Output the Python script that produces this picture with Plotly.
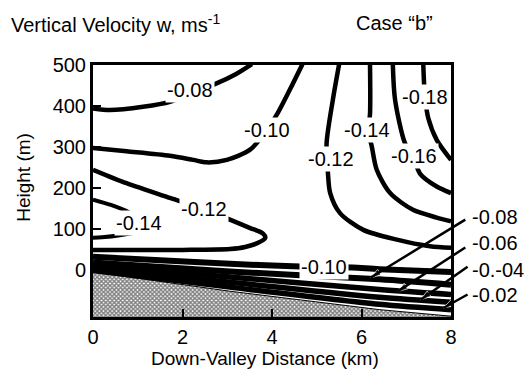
import plotly.graph_objects as go

# ---------------- data ----------------
x_tick_vals = [0, 2, 4, 6, 8]
y_tick_vals = [0, 100, 200, 300, 400, 500]
X_RANGE = [0, 8]
Y_RANGE = [-116, 500]

# contour -0.08 (upper left)
c008_x = [0.0, 0.38, 1.12, 1.72, 2.2, 2.76, 3.2, 3.55]
c008_y = [394, 390, 398, 410, 432, 455, 478, 502]
# contour -0.10 (upper)
c010u_x = [0.0, 0.75, 1.72, 2.24, 2.54, 2.99, 3.51, 3.88, 4.13, 4.4, 4.68]
c010u_y = [297, 289, 278, 268, 262, 268, 293, 340, 383, 440, 502]
# contour -0.12 (left tongue)
c012l_x = [0.0, 0.75, 1.72, 2.47, 3.06, 3.5, 3.8, 3.85, 3.7, 3.4, 3.06, 2.0, 1.0, 0.0]
c012l_y = [244, 211, 175, 148, 122, 102, 88, 78, 66, 55, 50, 48, 48, 48]
# contour -0.14 (left tongue)
c014l_x = [0.0, 0.4, 0.8, 1.05, 1.15, 1.0, 0.6, 0.2, 0.0]
c014l_y = [171, 158, 140, 118, 108, 93, 84, 79, 78]
# contour -0.12 (right)
c012r_x = [5.5, 5.36, 5.22, 5.25, 5.3, 5.52, 6.04, 6.79, 7.53, 8.0]
c012r_y = [502, 415, 309, 236, 187, 138, 97, 73, 57, 53]
# contour -0.14 (right)
c014r_x = [6.19, 6.19, 6.15, 6.23, 6.34, 6.64, 7.15, 7.68, 8.0]
c014r_y = [502, 380, 340, 301, 244, 187, 146, 127, 118]
# contour -0.16
c016_x = [6.70, 6.75, 6.97, 7.15, 7.31, 7.68, 8.0]
c016_y = [502, 415, 309, 277, 234, 203, 187]
# contour -0.18
c018_x = [7.38, 7.40, 7.42, 7.49, 7.68, 8.0]
c018_y = [502, 451, 421, 371, 317, 268]
# near-ground contours
c010g_x = [0.0, 1.5, 3.06, 4.47, 5.17, 5.8, 6.4, 8.0]
c010g_y = [31, 23, 14, 8, 7, 5, 1, -6]
c008g_x = [0.0, 3.06, 6.4, 8.0]
c008g_y = [17, -5, -24, -37]
c006g_x = [0.0, 3.06, 6.4, 8.0]
c006g_y = [9, -18, -49, -61]
c004g_x = [0.0, 3.06, 6.4, 8.0]
c004g_y = [3, -31, -68, -80]
c002g_x = [0.0, 3.06, 6.4, 8.0]
c002g_y = [-2, -43, -85, -98]
# terrain surface
ground_x = [0.0, 3.06, 6.4, 8.0, 8.0, 0.0]
ground_y = [-6, -53, -98, -114, -130, -130]

# contour labels inside the plot
inner_labels = ["-0.08", "-0.10", "-0.12", "-0.14", "-0.12", "-0.14", "-0.16", "-0.18", "-0.10"]
inner_label_x = [2.17, 3.88, 2.47, 1.02, 5.32, 6.12, 7.18, 7.42, 5.17]
inner_label_y = [440, 340, 148, 113, 270, 340, 277, 421, 7]

# leader labels outside the plot (data units)
outer_labels = ["-0.08", "-0.06", "-0.-04", "-0.02"]
outer_label_x = [8.99, 8.99, 9.06, 8.99]
outer_label_y = [129, 66, 0, -61]
leader_tail_x = [8.32, 8.32, 8.37, 8.37]
leader_tail_y = [122, 54, 7, -61]
leader_tip_x = [6.2, 6.8, 7.32, 7.83]
leader_tip_y = [-20, -54, -74, -94]

FONT = "Liberation Sans, Arial, sans-serif"
FS = 20


def to_paper_x(v):
    return (v - X_RANGE[0]) / (X_RANGE[1] - X_RANGE[0])


def to_paper_y(v):
    return (v - Y_RANGE[0]) / (Y_RANGE[1] - Y_RANGE[0])


fig = go.Figure()

fig.add_trace(go.Scatter(
    x=ground_x, y=ground_y, mode="lines", fill="toself",
    line=dict(color="black", width=1),
    fillcolor="white",
    fillpattern=dict(shape="x", fgcolor="black", bgcolor="white", size=3, solidity=0.7),
    hoverinfo="skip", showlegend=False))

for xs, ys, w in [
    (c008_x, c008_y, 4.5), (c010u_x, c010u_y, 4.5), (c012l_x, c012l_y, 4.5),
    (c014l_x, c014l_y, 4), (c012r_x, c012r_y, 4.5), (c014r_x, c014r_y, 4.5),
    (c016_x, c016_y, 4.5), (c018_x, c018_y, 4.5),
    (c010g_x, c010g_y, 6), (c008g_x, c008g_y, 6), (c006g_x, c006g_y, 5.5),
    (c004g_x, c004g_y, 5.5), (c002g_x, c002g_y, 5.5),
]:
    fig.add_trace(go.Scatter(
        x=xs, y=ys, mode="lines",
        line=dict(color="black", width=w, shape="spline", smoothing=0.8),
        hoverinfo="skip", showlegend=False))

for t, lx, ly in zip(inner_labels, inner_label_x, inner_label_y):
    fig.add_annotation(x=lx, y=ly, xref="x", yref="y", text=t, showarrow=False,
                       bgcolor="white", borderpad=1,
                       font=dict(family=FONT, size=FS, color="black"))

for t, lx, ly in zip(outer_labels, outer_label_x, outer_label_y):
    fig.add_annotation(x=to_paper_x(lx), y=to_paper_y(ly), xref="paper", yref="paper",
                       xanchor="center", yanchor="middle",
                       text=t, showarrow=False,
                       font=dict(family=FONT, size=FS, color="black"))

for tx, ty, hx, hy in zip(leader_tail_x, leader_tail_y, leader_tip_x, leader_tip_y):
    fig.add_shape(type="line", xref="paper", yref="paper",
                  x0=to_paper_x(tx), y0=to_paper_y(ty),
                  x1=to_paper_x(hx), y1=to_paper_y(hy),
                  line=dict(color="black", width=2.5))
    fig.add_trace(go.Scatter(
        x=[tx, hx], y=[ty, hy], mode="markers", cliponaxis=False,
        marker=dict(symbol="arrow", angleref="previous", size=[0, 11], color="black",
                    line=dict(width=1, color="white")),
        hoverinfo="skip", showlegend=False))

# the page body adds an 8 px offset, so the figure is 8 px smaller than the window
fig.update_layout(
    width=524, height=367,
    margin=dict(l=85, r=81, t=57, b=58, autoexpand=False),
    paper_bgcolor="white", plot_bgcolor="white",
    font=dict(family=FONT, size=FS, color="black"),
    xaxis=dict(range=X_RANGE, tickvals=x_tick_vals, ticks="inside", ticklen=8,
               tickwidth=2, tickcolor="black", showline=True, linecolor="black",
               linewidth=3, mirror=True, showgrid=False, zeroline=False,
               automargin=False, tickfont=dict(family=FONT, size=FS)),
    yaxis=dict(range=Y_RANGE, tickvals=y_tick_vals, ticks="inside", ticklen=8,
               tickwidth=2, tickcolor="black", showline=True, linecolor="black",
               linewidth=3, mirror=True, showgrid=False, zeroline=False,
               automargin=False, tickfont=dict(family=FONT, size=FS)),
)

fig.add_annotation(xref="paper", yref="paper", x=0.48, y=-0.163,
                   xanchor="center", yanchor="middle",
                   text="Down-Valley Distance (km)", showarrow=False,
                   font=dict(family=FONT, size=19))
fig.add_annotation(xref="paper", yref="paper", x=-0.193, y=0.556, textangle=-90,
                   xanchor="center", yanchor="middle",
                   text="Height (m)", showarrow=False,
                   font=dict(family=FONT, size=19))
fig.add_annotation(xref="paper", yref="paper", x=-0.235, y=1.165, xanchor="left", yanchor="middle",
                   text="Vertical Velocity w, ms<sup>-1</sup>", showarrow=False,
                   font=dict(family=FONT, size=FS))
fig.add_annotation(xref="paper", yref="paper", x=0.728, y=1.165, xanchor="left", yanchor="middle",
                   text="Case \u201cb\u201d", showarrow=False,
                   font=dict(family=FONT, size=FS))

fig.write_html("out.html")
